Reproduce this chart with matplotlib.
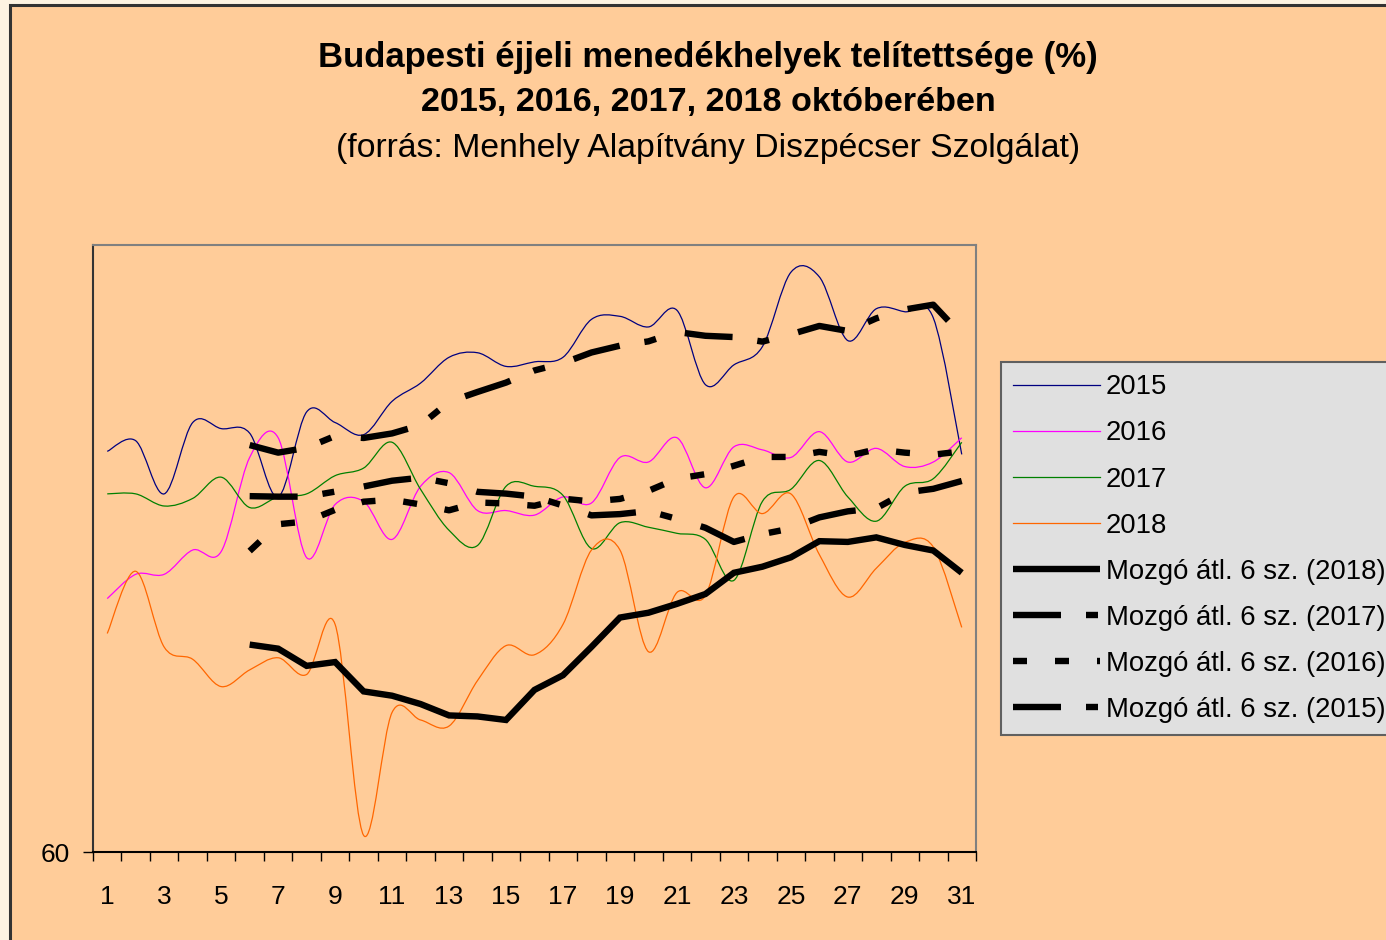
import matplotlib
matplotlib.use("Agg")
import matplotlib.pyplot as plt
import numpy as np
import pandas as pd
from matplotlib.path import Path
from matplotlib.patches import PathPatch, Rectangle
from matplotlib.lines import Line2D

plt.rcParams['font.family'] = ['Liberation Sans', 'DejaVu Sans']
plt.rcParams['lines.scale_dashes'] = False

# napok (október)
days = list(range(1, 32))

# telítettség (%) - leolvasva
y2015 = [86.4, 87.1, 83.6, 88.3, 87.9, 87.6, 83.4, 89.0, 88.3, 87.5,
         89.7, 90.9, 92.6, 92.9, 92.0, 92.3, 92.6, 95.1, 95.3, 94.6,
         95.7, 90.8, 92.1, 93.3, 98.2, 97.9, 93.7, 95.8, 95.6, 95.2, 86.2]
y2016 = [76.7, 78.3, 78.3, 79.9, 79.8, 86.0, 87.3, 79.4, 82.9, 83.1,
         80.6, 84.1, 85.0, 82.5, 82.5, 82.2, 83.4, 83.0, 86.0, 85.7,
         87.3, 84.0, 86.7, 86.5, 86.0, 87.7, 85.7, 86.6, 85.4, 85.7, 87.3]
y2017 = [83.6, 83.6, 82.8, 83.3, 84.7, 82.7, 83.4, 83.6, 84.8, 85.3,
         87.0, 83.9, 81.2, 80.2, 84.1, 84.1, 83.5, 80.0, 81.7, 81.4,
         81.0, 80.6, 77.9, 83.1, 83.9, 85.8, 83.4, 81.8, 84.1, 84.6, 87.0]
y2018 = [74.4, 78.5, 73.5, 72.7, 70.9, 72.0, 72.8, 71.7, 75.0, 61.1,
         69.2, 68.7, 68.3, 71.3, 73.6, 73.0, 75.0, 79.9, 79.9, 73.2,
         77.1, 76.9, 83.4, 82.3, 83.6, 79.6, 76.8, 78.7, 80.4, 80.1, 74.8]

years = ['2015', '2016', '2017', '2018']
series = [y2015, y2016, y2017, y2018]
colors = ['#000080', '#FF00FF', '#008000', '#FF6600']

# mozgó átlag stílusok (pixelben megadott szaggatás -> pont)
px = 72 / 100
ma_styles = {
    '2018': None,
    '2017': (0, (48 * px, 25 * px, 12 * px, 30 * px)),
    '2016': (0, (14 * px, 28 * px)),
    '2015': (0, (48 * px, 25 * px, 12 * px, 30 * px)),
}

peach = '#FFCC99'

fig = plt.figure(figsize=(13.86, 9.4), dpi=100, facecolor='#FDF3E2')
# keret
fig.patches.append(Rectangle((10 / 1386, -0.1), 1.2, 1 - 5 / 940 + 0.1,
                             transform=fig.transFigure, facecolor=peach,
                             edgecolor='#333333', linewidth=2.2, zorder=-5))

ax = fig.add_axes([93 / 1386, 1 - 852 / 940, (976 - 93) / 1386, (852 - 245) / 940])
ax.set_facecolor(peach)


def smooth_path(x, y):
    pts = np.column_stack([x, y]).astype(float)
    n = len(pts)
    verts = [pts[0]]
    codes = [Path.MOVETO]
    for i in range(n - 1):
        p0, p1 = pts[i], pts[i + 1]
        prev = pts[i - 1] if i > 0 else p0
        nxt = pts[i + 2] if i + 2 < n else p1
        verts += [p0 + (p1 - prev) / 6, p1 - (nxt - p0) / 6, p1]
        codes += [Path.CURVE4] * 3
    return Path(verts, codes)


for vals, col in zip(series, colors):
    ax.add_patch(PathPatch(smooth_path(days, vals), facecolor='none',
                           edgecolor=col, linewidth=0.9, zorder=2))

ma_handles = []
for yr, vals in zip(years[::-1], series[::-1]):
    ma = pd.Series(vals, index=days).rolling(6).mean().dropna()
    ls = ma_styles[yr]
    line, = ax.plot(ma.index, ma.values, color='black', linewidth=4.6,
                    linestyle='-' if ls is None else ls,
                    solid_capstyle='butt', dash_capstyle='butt',
                    solid_joinstyle='miter', zorder=3)
    ma_handles.append((line, 'Mozgó átl. 6 sz. (%s)' % yr))

ax.set_xlim(0.5, 31.5)
ax.set_ylim(60, 100)

ax.set_xticks(np.arange(0.5, 32, 1))
ax.set_xticklabels([])
ax.set_xticks(days[::2], minor=True)
ax.set_xticklabels([str(d) for d in days[::2]], minor=True, fontsize=19)
ax.tick_params(axis='x', which='major', direction='out', length=6.5,
               width=1, color='black')
ax.tick_params(axis='x', which='minor', length=0, pad=24)
ax.set_yticks([60])
ax.set_yticklabels(['60'], fontsize=19)
ax.tick_params(axis='y', direction='out', length=7, width=1, pad=10)

for s in ['top', 'right']:
    ax.spines[s].set_color('#808080')
    ax.spines[s].set_linewidth(1.5)
ax.spines['left'].set_color('#333333')
ax.spines['bottom'].set_color('black')
ax.spines['left'].set_linewidth(1.5)
ax.spines['bottom'].set_linewidth(1.5)

# cím
fig.text(708 / 1386, 1 - 57 / 940, 'Budapesti éjjeli menedékhelyek telítettsége (%)',
         ha='center', va='center', fontsize=25, fontweight='bold')
fig.text(708 / 1386, 1 - 102 / 940, '2015, 2016, 2017, 2018 októberében',
         ha='center', va='center', fontsize=24.6, fontweight='bold')
fig.text(708 / 1386, 1 - 148 / 940, '(forrás: Menhely Alapítvány Diszpécser Szolgálat)',
         ha='center', va='center', fontsize=24.3)

# jelmagyarázat
handles = [Line2D([], [], color=c, linewidth=0.9) for c in colors]
labels = list(years)
for h, l in ma_handles:
    handles.append(h)
    labels.append(l)
leg = fig.legend(handles, labels, loc='upper left',
                 bbox_to_anchor=(1001 / 1386, 1 - 362 / 940),
                 fontsize=19.8, frameon=True, fancybox=False,
                 handlelength=3.15, handletextpad=0.2, labelspacing=0.73,
                 borderpad=0.45, borderaxespad=0)
leg.get_frame().set_facecolor('#E0E0E0')
leg.get_frame().set_edgecolor('#606060')
leg.get_frame().set_linewidth(1.5)
leg.get_frame().set_alpha(1)

fig.savefig('out.png', dpi=100, facecolor=fig.get_facecolor())
